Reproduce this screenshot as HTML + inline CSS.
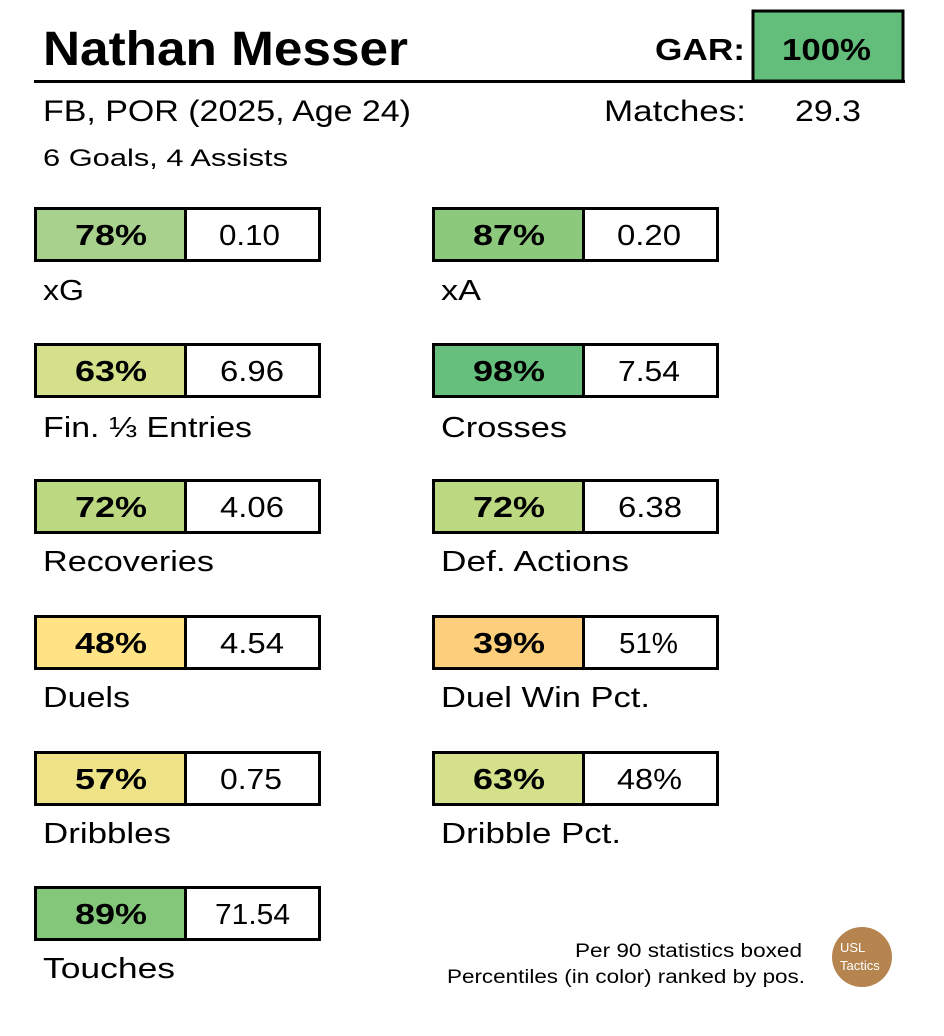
<!DOCTYPE html>
<html><head><meta charset="utf-8"><style>
html,body{margin:0;padding:0;background:#fff;}
svg{display:block;}
text{font-family:"Liberation Sans",sans-serif;fill:#000;}
</style></head><body>
<svg width="944" height="1036" viewBox="0 0 944 1036" xmlns="http://www.w3.org/2000/svg">
<rect width="944" height="1036" fill="#fff"/>
<text x="43" y="65" font-size="48" font-weight="bold" textLength="365" lengthAdjust="spacingAndGlyphs">Nathan Messer</text>
<line x1="34" y1="81.5" x2="905" y2="81.5" stroke="#000" stroke-width="3"/>
<rect x="753" y="11" width="150" height="70" fill="#63be7b" stroke="#000" stroke-width="3"/>
<text x="782" y="60" font-size="31" font-weight="bold" textLength="89" lengthAdjust="spacingAndGlyphs">100%</text>
<text x="655" y="60" font-size="31" font-weight="bold" textLength="90" lengthAdjust="spacingAndGlyphs">GAR:</text>
<text x="43" y="121" font-size="30" textLength="368" lengthAdjust="spacingAndGlyphs">FB, POR (2025, Age 24)</text>
<text x="604" y="121" font-size="30" textLength="142" lengthAdjust="spacingAndGlyphs">Matches:</text>
<text x="795" y="121" font-size="30" textLength="66" lengthAdjust="spacingAndGlyphs">29.3</text>
<text x="43" y="166" font-size="24" textLength="245" lengthAdjust="spacingAndGlyphs">6 Goals,  4 Assists</text>
<g font-size="29">
<g>
<rect x="35.5" y="208.5" width="150" height="52" fill="#a9d18e" stroke="#000" stroke-width="3"/><rect x="185.5" y="208.5" width="134" height="52" fill="#fff" stroke="#000" stroke-width="3"/>
<text x="75" y="245" font-weight="bold" textLength="72" lengthAdjust="spacingAndGlyphs">78%</text><text x="219" y="245" textLength="61" lengthAdjust="spacingAndGlyphs">0.10</text><text x="43" y="300" textLength="41" lengthAdjust="spacingAndGlyphs">xG</text>
</g>
<g>
<rect x="35.5" y="344.5" width="150" height="52" fill="#d4e08a" stroke="#000" stroke-width="3"/><rect x="185.5" y="344.5" width="134" height="52" fill="#fff" stroke="#000" stroke-width="3"/>
<text x="75" y="381" font-weight="bold" textLength="72" lengthAdjust="spacingAndGlyphs">63%</text><text x="220" y="381" textLength="64" lengthAdjust="spacingAndGlyphs">6.96</text><text x="43" y="437" textLength="209" lengthAdjust="spacingAndGlyphs">Fin. ⅓ Entries</text>
</g>
<g>
<rect x="35.5" y="480.5" width="150" height="52" fill="#bcd982" stroke="#000" stroke-width="3"/><rect x="185.5" y="480.5" width="134" height="52" fill="#fff" stroke="#000" stroke-width="3"/>
<text x="75" y="517" font-weight="bold" textLength="72" lengthAdjust="spacingAndGlyphs">72%</text><text x="220" y="517" textLength="64" lengthAdjust="spacingAndGlyphs">4.06</text><text x="43" y="571" textLength="171" lengthAdjust="spacingAndGlyphs">Recoveries</text>
</g>
<g>
<rect x="35.5" y="616.5" width="150" height="52" fill="#ffe384" stroke="#000" stroke-width="3"/><rect x="185.5" y="616.5" width="134" height="52" fill="#fff" stroke="#000" stroke-width="3"/>
<text x="75" y="653" font-weight="bold" textLength="72" lengthAdjust="spacingAndGlyphs">48%</text><text x="220" y="653" textLength="64" lengthAdjust="spacingAndGlyphs">4.54</text><text x="43" y="707" textLength="87" lengthAdjust="spacingAndGlyphs">Duels</text>
</g>
<g>
<rect x="35.5" y="752.5" width="150" height="52" fill="#eee487" stroke="#000" stroke-width="3"/><rect x="185.5" y="752.5" width="134" height="52" fill="#fff" stroke="#000" stroke-width="3"/>
<text x="75" y="789" font-weight="bold" textLength="72" lengthAdjust="spacingAndGlyphs">57%</text><text x="220" y="789" textLength="62" lengthAdjust="spacingAndGlyphs">0.75</text><text x="43" y="843" textLength="128" lengthAdjust="spacingAndGlyphs">Dribbles</text>
</g>
<g>
<rect x="35.5" y="887.5" width="150" height="52" fill="#84c77b" stroke="#000" stroke-width="3"/><rect x="185.5" y="887.5" width="134" height="52" fill="#fff" stroke="#000" stroke-width="3"/>
<text x="75" y="924" font-weight="bold" textLength="72" lengthAdjust="spacingAndGlyphs">89%</text><text x="215" y="924" textLength="75" lengthAdjust="spacingAndGlyphs">71.54</text><text x="43" y="978" textLength="132" lengthAdjust="spacingAndGlyphs">Touches</text>
</g>
<g>
<rect x="433.5" y="208.5" width="150" height="52" fill="#8cc97c" stroke="#000" stroke-width="3"/><rect x="583.5" y="208.5" width="134" height="52" fill="#fff" stroke="#000" stroke-width="3"/>
<text x="473" y="245" font-weight="bold" textLength="72" lengthAdjust="spacingAndGlyphs">87%</text><text x="617" y="245" textLength="64" lengthAdjust="spacingAndGlyphs">0.20</text><text x="441" y="300" textLength="40" lengthAdjust="spacingAndGlyphs">xA</text>
</g>
<g>
<rect x="433.5" y="344.5" width="150" height="52" fill="#66bf7c" stroke="#000" stroke-width="3"/><rect x="583.5" y="344.5" width="134" height="52" fill="#fff" stroke="#000" stroke-width="3"/>
<text x="473" y="381" font-weight="bold" textLength="72" lengthAdjust="spacingAndGlyphs">98%</text><text x="618" y="381" textLength="62" lengthAdjust="spacingAndGlyphs">7.54</text><text x="441" y="437" textLength="126" lengthAdjust="spacingAndGlyphs">Crosses</text>
</g>
<g>
<rect x="433.5" y="480.5" width="150" height="52" fill="#bcd982" stroke="#000" stroke-width="3"/><rect x="583.5" y="480.5" width="134" height="52" fill="#fff" stroke="#000" stroke-width="3"/>
<text x="473" y="517" font-weight="bold" textLength="72" lengthAdjust="spacingAndGlyphs">72%</text><text x="618" y="517" textLength="64" lengthAdjust="spacingAndGlyphs">6.38</text><text x="441" y="571" textLength="188" lengthAdjust="spacingAndGlyphs">Def. Actions</text>
</g>
<g>
<rect x="433.5" y="616.5" width="150" height="52" fill="#fdce7c" stroke="#000" stroke-width="3"/><rect x="583.5" y="616.5" width="134" height="52" fill="#fff" stroke="#000" stroke-width="3"/>
<text x="473" y="653" font-weight="bold" textLength="72" lengthAdjust="spacingAndGlyphs">39%</text><text x="619" y="653" textLength="59" lengthAdjust="spacingAndGlyphs">51%</text><text x="441" y="707" textLength="209" lengthAdjust="spacingAndGlyphs">Duel Win Pct.</text>
</g>
<g>
<rect x="433.5" y="752.5" width="150" height="52" fill="#d4e08a" stroke="#000" stroke-width="3"/><rect x="583.5" y="752.5" width="134" height="52" fill="#fff" stroke="#000" stroke-width="3"/>
<text x="473" y="789" font-weight="bold" textLength="72" lengthAdjust="spacingAndGlyphs">63%</text><text x="617" y="789" textLength="65" lengthAdjust="spacingAndGlyphs">48%</text><text x="441" y="843" textLength="180" lengthAdjust="spacingAndGlyphs">Dribble Pct.</text>
</g>
</g>
<text x="575" y="957" font-size="19" textLength="227" lengthAdjust="spacingAndGlyphs">Per 90 statistics boxed</text>
<text x="447" y="983" font-size="19" textLength="358" lengthAdjust="spacingAndGlyphs">Percentiles (in color) ranked by pos.</text>
<circle cx="862" cy="957" r="30" fill="#b5844f"/>
<text x="840" y="952" font-size="13" style="fill:#fff">USL</text>
<text x="840" y="970" font-size="13" style="fill:#fff">Tactics</text>
</svg>
</body></html>
